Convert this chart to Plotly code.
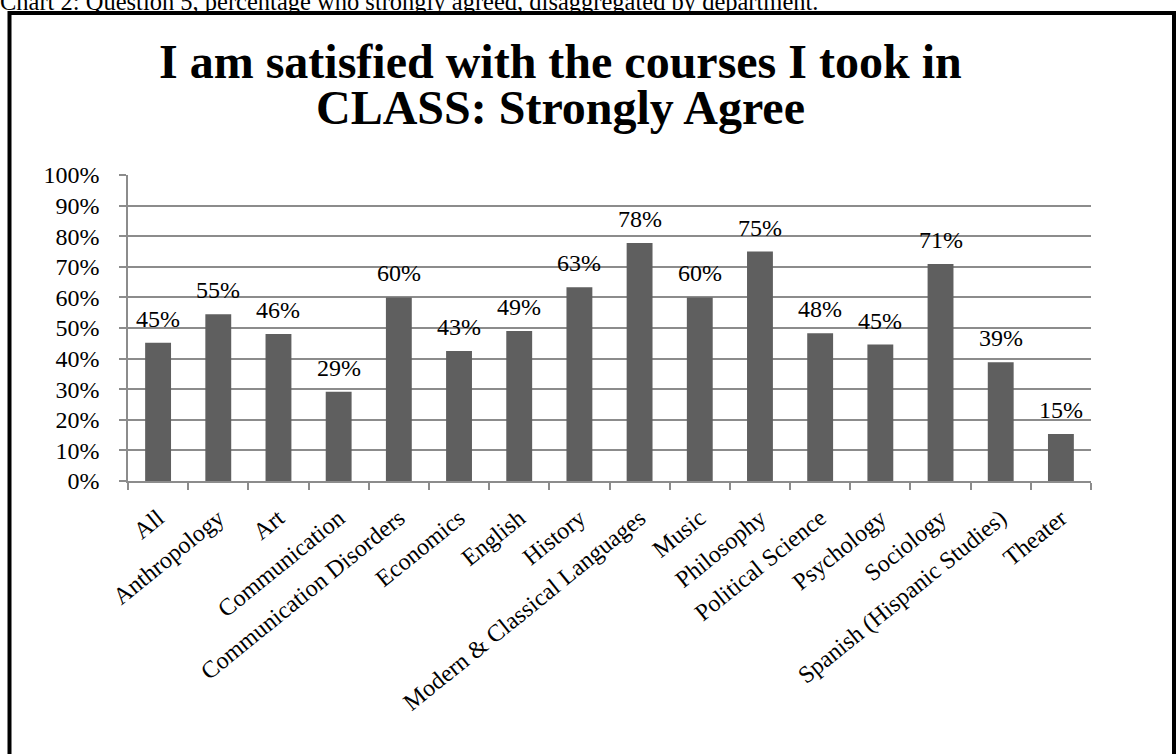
import plotly.graph_objects as go

categories = ["All", "Anthropology", "Art", "Communication", "Communication Disorders",
              "Economics", "English", "History", "Modern & Classical Languages", "Music",
              "Philosophy", "Political Science", "Psychology", "Sociology",
              "Spanish (Hispanic Studies)", "Theater"]
values = [45.2, 54.5, 48.0, 29.2, 60.0, 42.5, 49.0, 63.3, 77.8, 60.0,
          75.0, 48.3, 44.6, 70.9, 38.8, 15.4]
labels = ["45%", "55%", "46%", "29%", "60%", "43%", "49%", "63%", "78%", "60%",
          "75%", "48%", "45%", "71%", "39%", "15%"]
y_ticks = list(range(0, 101, 10))
y_tick_text = [f"{t}%" for t in y_ticks]
title_lines = ["I am satisfied with the courses I took in", "CLASS: Strongly Agree"]
caption = "Chart 2: Question 5, percentage who strongly agreed, disaggregated by department."

W, H = 1176, 754
L, R, T, B = 128, 1091, 175, 481
PW, PH = R - L, B - T

def px(x):
    return (x - L) / PW

def py(y):
    return (B - y) / PH

FONT = "Liberation Serif, Times New Roman, serif"
FS = 24

fig = go.Figure()
fig.add_trace(go.Bar(x=categories, y=values, marker=dict(color="#5f5f5f", line=dict(width=0)),
                     hoverinfo="skip"))

annotations = []
for c, v, t in zip(categories, values, labels):
    annotations.append(dict(x=c, y=v, xref="x", yref="y", text=t, showarrow=False,
                            yanchor="bottom", yshift=9,
                            font=dict(family=FONT, size=FS, color="black")))

for line, yc in zip(title_lines, [61, 108]):
    annotations.append(dict(x=px(560), y=py(yc), xref="paper", yref="paper",
                            text=f"<b>{line}</b>",
                            showarrow=False, xanchor="center", yanchor="middle",
                            font=dict(family=FONT, size=48, color="black")))
annotations.append(dict(x=px(-2), y=py(1), xref="paper", yref="paper",
                        text=caption,
                        showarrow=False, xanchor="left", yanchor="middle",
                        font=dict(family=FONT, size=24.5, color="black")))

fig.update_layout(
    width=W, height=H,
    margin=dict(l=L, r=W - R, t=T, b=H - B, pad=0),
    paper_bgcolor="white", plot_bgcolor="white",
    showlegend=False,
    bargap=0.57,
    font=dict(family=FONT, size=FS, color="black"),
    annotations=annotations,
    shapes=[dict(type="rect", xref="paper", yref="paper",
                 x0=px(9.5), x1=px(1174), y0=py(13), y1=py(770),
                 line=dict(color="black", width=4), fillcolor="rgba(0,0,0,0)")],
)
fig.update_yaxes(range=[0, 100], tickvals=y_ticks, ticktext=y_tick_text,
                 showgrid=True, gridcolor="#8c8c8c", gridwidth=1.5,
                 showline=True, linecolor="#8c8c8c", linewidth=1.5,
                 ticks="outside", ticklen=7, tickcolor="#8c8c8c", tickwidth=1.5,
                 zeroline=False, ticklabelstandoff=15,
                 tickfont=dict(family=FONT, size=FS, color="black"))
fig.update_xaxes(type="category", tickangle=-39, tickson="boundaries",
                 showline=True, linecolor="#8c8c8c", linewidth=1.5,
                 ticks="outside", ticklen=7, tickcolor="#8c8c8c", tickwidth=1.5,
                 showgrid=False, mirror=False, ticklabelstandoff=12,
                 tickfont=dict(family=FONT, size=FS, color="black"))

fig.write_html("out.html", config={"displayModeBar": False},
               post_script="document.body.style.margin='0';document.body.style.overflow='hidden';")
